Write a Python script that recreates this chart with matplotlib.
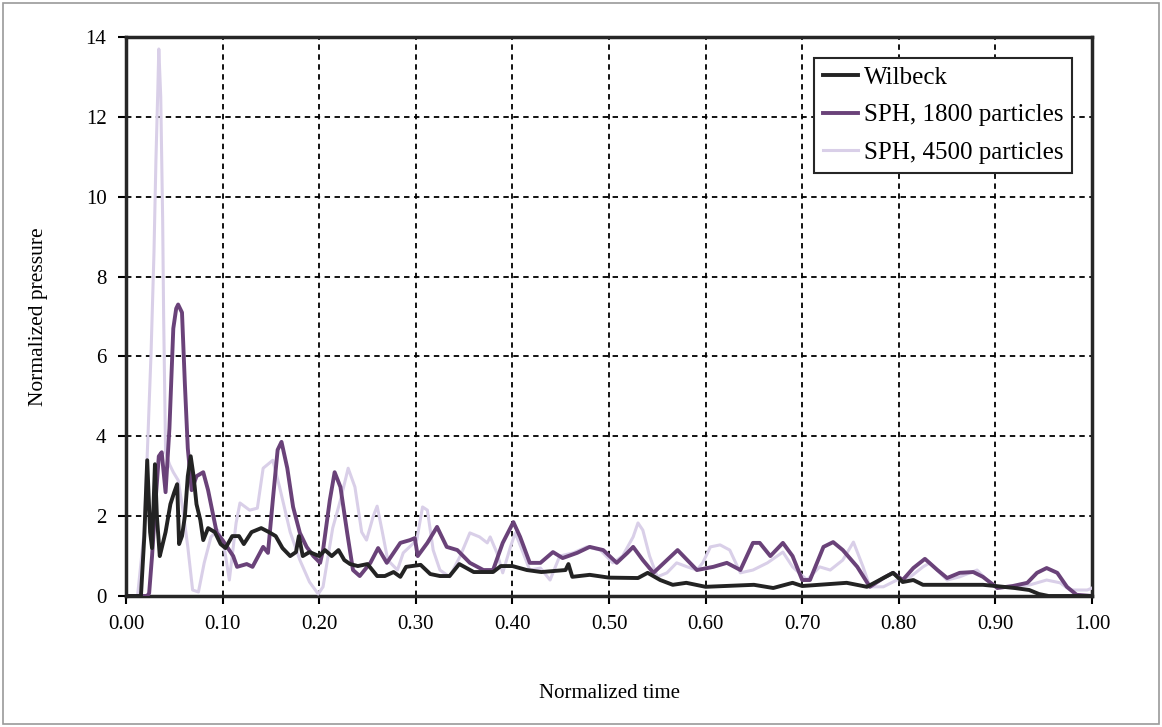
import matplotlib.pyplot as plt # Plotting
import matplotlib.patches as patches
import numpy as np # Arrays

plt.rcParams['font.family'] = ['Liberation Serif', 'DejaVu Serif']

# Wilbeck reference curve
t_wil = [0.0, 0.0155, 0.019, 0.022, 0.025, 0.027, 0.030, 0.032, 0.035, 0.038, 0.041, 0.046,
         0.050, 0.053, 0.055, 0.058, 0.061, 0.064, 0.067, 0.070, 0.073, 0.077, 0.080, 0.085,
         0.092, 0.098, 0.103, 0.110, 0.117, 0.122, 0.130, 0.140, 0.148, 0.155, 0.162, 0.170,
         0.176, 0.179, 0.183, 0.190, 0.200, 0.206, 0.213, 0.220, 0.226, 0.232, 0.240, 0.250,
         0.260, 0.268, 0.277, 0.284, 0.290, 0.305, 0.315, 0.325, 0.335, 0.345, 0.360, 0.380,
         0.388, 0.400, 0.415, 0.430, 0.455, 0.458, 0.462, 0.480, 0.500, 0.530, 0.540, 0.553,
         0.566, 0.580, 0.600, 0.620, 0.650, 0.670, 0.690, 0.700, 0.746, 0.767, 0.794, 0.804,
         0.815, 0.825, 0.887, 0.900, 0.920, 0.935, 0.945, 0.955, 1.0]
p_wil = [0.0, 0.0, 1.5, 3.4, 1.6, 1.2, 3.3, 2.0, 1.0, 1.3, 1.6, 2.3,
         2.6, 2.8, 1.3, 1.5, 2.0, 3.0, 3.5, 3.0, 2.3, 1.9, 1.4, 1.7,
         1.6, 1.3, 1.2, 1.5, 1.5, 1.3, 1.6, 1.7, 1.6, 1.5, 1.2, 1.0,
         1.1, 1.5, 1.0, 1.1, 1.0, 1.15, 1.0, 1.15, 0.9, 0.8, 0.75, 0.8,
         0.5, 0.5, 0.6, 0.48, 0.73, 0.78, 0.55, 0.5, 0.5, 0.8, 0.6, 0.6,
         0.75, 0.75, 0.65, 0.6, 0.65, 0.8, 0.48, 0.53, 0.46, 0.45, 0.58, 0.4,
         0.28, 0.33, 0.23, 0.25, 0.28, 0.2, 0.33, 0.25, 0.33, 0.23, 0.58, 0.35,
         0.4, 0.28, 0.28, 0.25, 0.2, 0.15, 0.05, 0.0, 0.0]

# SPH, 1800 particles
t_1800 = [0.0, 0.022, 0.024, 0.027, 0.031, 0.034, 0.037, 0.041, 0.045, 0.049, 0.052, 0.054,
          0.058, 0.061, 0.064, 0.068, 0.073, 0.080, 0.085, 0.094, 0.100, 0.111, 0.115, 0.125,
          0.131, 0.142, 0.147, 0.152, 0.157, 0.161, 0.167, 0.173, 0.180, 0.187, 0.194, 0.201,
          0.204, 0.211, 0.216, 0.222, 0.229, 0.235, 0.242, 0.253, 0.261, 0.270, 0.284, 0.294,
          0.299, 0.302, 0.312, 0.322, 0.332, 0.343, 0.356, 0.370, 0.380, 0.390, 0.401, 0.408,
          0.418, 0.429, 0.442, 0.452, 0.467, 0.480, 0.494, 0.508, 0.519, 0.525, 0.535, 0.546,
          0.560, 0.571, 0.581, 0.591, 0.608, 0.622, 0.636, 0.649, 0.656, 0.667, 0.680, 0.690,
          0.700, 0.708, 0.722, 0.732, 0.742, 0.757, 0.770, 0.784, 0.794, 0.804, 0.815, 0.827,
          0.840, 0.850, 0.863, 0.877, 0.887, 0.902, 0.918, 0.933, 0.943, 0.953, 0.964, 0.974,
          0.984, 1.0]
p_1800 = [0.0, 0.0, 0.07, 1.0, 2.5, 3.5, 3.6, 2.6, 4.2, 6.7, 7.2, 7.3,
          7.1, 5.3, 3.7, 2.65, 3.0, 3.1, 2.65, 1.58, 1.4, 1.0, 0.73, 0.8,
          0.73, 1.23, 1.08, 2.4, 3.66, 3.86, 3.2, 2.23, 1.58, 1.23, 1.0, 0.83,
          1.15, 2.4, 3.1, 2.73, 1.58, 0.65, 0.5, 0.83, 1.2, 0.83, 1.33, 1.4,
          1.45, 1.0, 1.33, 1.73, 1.23, 1.15, 0.83, 0.65, 0.65, 1.33, 1.85, 1.48,
          0.83, 0.83, 1.1, 0.95, 1.08, 1.23, 1.15, 0.83, 1.08, 1.23, 0.9, 0.58,
          0.9, 1.15, 0.9, 0.65, 0.73, 0.83, 0.65, 1.33, 1.33, 1.0, 1.33, 1.0,
          0.4, 0.4, 1.23, 1.35, 1.15, 0.73, 0.23, 0.45, 0.58, 0.4, 0.7, 0.93,
          0.65, 0.45, 0.58, 0.6, 0.48, 0.2, 0.25, 0.33, 0.58, 0.7, 0.58, 0.23,
          0.03, 0.0]

# SPH, 4500 particles
t_4500 = [0.0, 0.012, 0.019, 0.023, 0.026, 0.029, 0.031, 0.033, 0.034, 0.036, 0.038, 0.039,
          0.041, 0.045, 0.049, 0.054, 0.059, 0.064, 0.069, 0.075, 0.081, 0.088, 0.095, 0.101,
          0.107, 0.114, 0.118, 0.128, 0.136, 0.142, 0.152, 0.159, 0.170, 0.180, 0.190, 0.199,
          0.204, 0.214, 0.222, 0.230, 0.237, 0.244, 0.249, 0.256, 0.260, 0.265, 0.271, 0.281,
          0.287, 0.301, 0.307, 0.312, 0.318, 0.325, 0.335, 0.346, 0.356, 0.366, 0.374, 0.377,
          0.384, 0.390, 0.398, 0.403, 0.410, 0.418, 0.429, 0.439, 0.449, 0.463, 0.477, 0.491,
          0.504, 0.514, 0.525, 0.530, 0.535, 0.542, 0.550, 0.560, 0.570, 0.581, 0.591, 0.597,
          0.605, 0.615, 0.625, 0.636, 0.649, 0.664, 0.680, 0.690, 0.705, 0.718, 0.729, 0.742,
          0.753, 0.763, 0.770, 0.784, 0.798, 0.812, 0.825, 0.832, 0.850, 0.863, 0.881, 0.891,
          0.902, 0.918, 0.936, 0.953, 0.967, 0.977, 0.995, 1.0]
p_4500 = [0.0, 0.0, 1.65, 4.15, 6.1, 8.6, 10.9, 12.7, 13.7, 12.5, 9.4, 7.0,
          3.6, 3.3, 3.1, 2.9, 2.15, 1.23, 0.15, 0.1, 0.83, 1.48, 1.65, 1.33,
          0.4, 1.83, 2.33, 2.15, 2.2, 3.2, 3.4, 2.73, 1.6, 0.9, 0.35, 0.05,
          0.23, 1.7, 2.4, 3.2, 2.73, 1.6, 1.4, 2.0, 2.25, 1.65, 0.9, 0.65,
          1.08, 1.4, 2.23, 2.15, 1.15, 0.65, 0.48, 1.0, 1.58, 1.48, 1.33, 1.48,
          1.08, 0.58, 1.23, 1.58, 1.15, 0.65, 0.7, 0.4, 1.0, 1.08, 1.23, 1.15,
          0.83, 1.0, 1.48, 1.83, 1.65, 1.0, 0.48, 0.58, 0.83, 0.73, 0.65, 0.83,
          1.23, 1.28, 1.15, 0.58, 0.65, 0.83, 1.1, 0.73, 0.4, 0.73, 0.65, 0.9,
          1.35, 0.73, 0.23, 0.23, 0.4, 0.48, 0.73, 0.83, 0.4, 0.48, 0.65, 0.4,
          0.23, 0.23, 0.28, 0.4, 0.33, 0.15, 0.15, 0.2]

x_ticks = [0.0, 0.1, 0.2, 0.3, 0.4, 0.5, 0.6, 0.7, 0.8, 0.9, 1.0]
y_ticks = [0, 2, 4, 6, 8, 10, 12, 14]

fig = plt.figure(figsize=(11.62, 7.27), dpi=100)
ax = fig.add_axes([0.1084, 0.1802, 0.8314, 0.7689])

# Outer frame around the whole picture
fig.patches.append(patches.Rectangle((0.003, 0.004), 0.994, 0.992, transform=fig.transFigure,
                                     fill=False, edgecolor='#9a9a9a', linewidth=1.2))

ax.plot(t_4500, p_4500, color='#d9cfe8', linewidth=2.2, zorder=3, label='SPH, 4500 particles')
ax.plot(t_1800, p_1800, color='#6a4279', linewidth=2.8, zorder=4, label='SPH, 1800 particles')
ax.plot(t_wil, p_wil, color='#232323', linewidth=2.8, zorder=5, label='Wilbeck')

ax.set_xlim(0, 1)
ax.set_ylim(0, 14)
ax.set_xticks(x_ticks)
ax.set_xticklabels(['%.2f' % v for v in x_ticks])
ax.set_yticks(y_ticks)
ax.grid(True, color='black', linestyle=(0, (3, 2.5)), linewidth=1.3, zorder=1)
ax.set_axisbelow(True)
for s in ax.spines.values():
    s.set_linewidth(2.5)
    s.set_color('#262626')
ax.tick_params(labelsize=15, length=6, width=1.5, pad=8, direction='out')

ax.set_xlabel('Normalized time', fontsize=15, labelpad=36)
ax.set_ylabel('Normalized pressure', fontsize=15.5, labelpad=27)

h, l = ax.get_legend_handles_labels()
leg = ax.legend(h[::-1], l[::-1], loc='upper right', bbox_to_anchor=(0.9845, 0.972), fontsize=18,
                frameon=True, fancybox=False, edgecolor='#262626', framealpha=1,
                handlelength=1.4, handletextpad=0.25, borderpad=0.35, labelspacing=0.6,
                borderaxespad=0.2)
leg.get_frame().set_linewidth(1.5)

plt.savefig('out.png', dpi=100)
